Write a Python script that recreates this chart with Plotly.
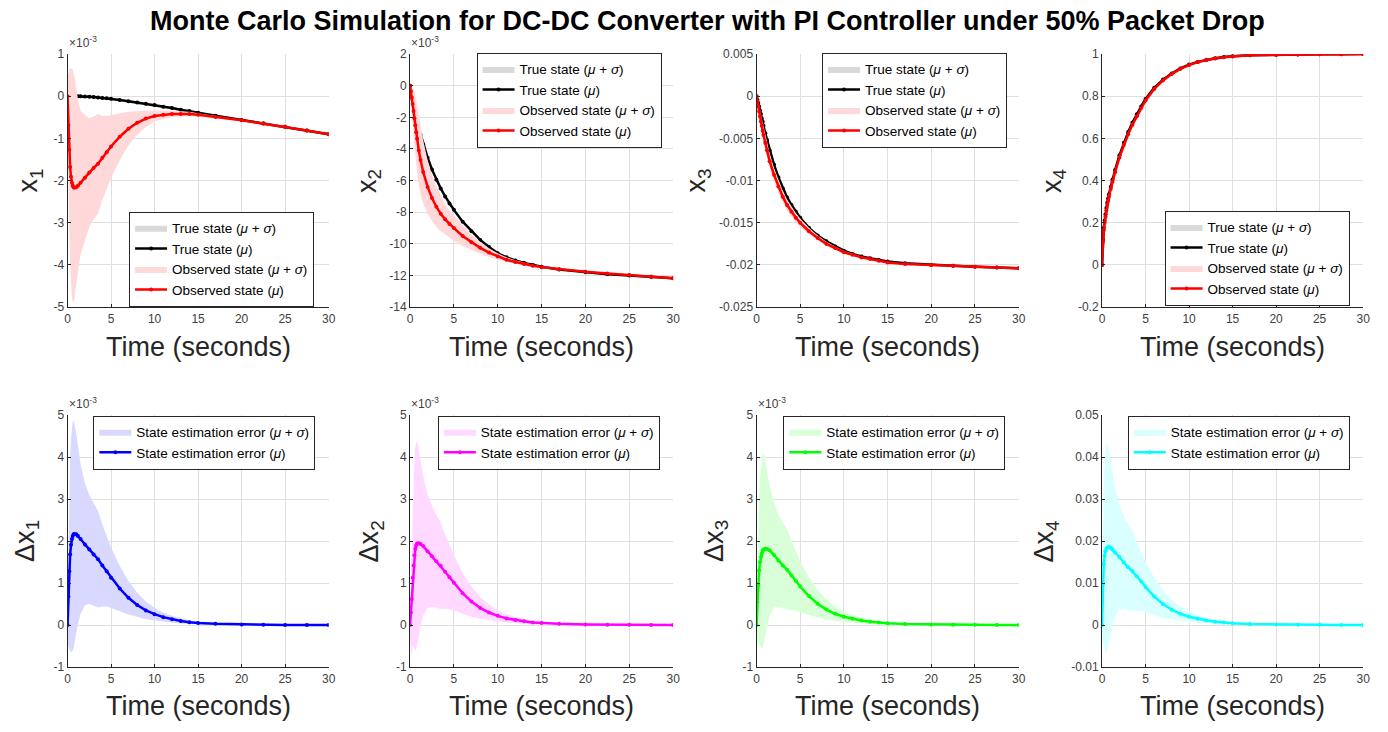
import plotly.graph_objects as go

# Simulation time samples (seconds)
T = [0, 0.1, 0.2, 0.3, 0.4, 0.5, 0.6, 0.7, 0.8, 1.0, 1.2, 1.5, 2.0, 2.5, 3.0, 3.5, 4.0, 4.5,
     5.0, 6.0, 7.0, 8.0, 9.0, 10, 11, 12, 13, 14, 15, 17, 20, 22.5, 25, 27.5, 30]

# ---- state x1 (units of 1e-3) ----
x1_true = [0, 0, 0, 0, 0, 0, 0, 0, 0, 0, 0, -0.002, -0.005, -0.01, -0.02, -0.03, -0.04, -0.05,
           -0.06, -0.09, -0.12, -0.15, -0.18, -0.21, -0.25, -0.28, -0.32, -0.35, -0.39, -0.46,
           -0.56, -0.64, -0.72, -0.81, -0.90]
x1_true_sd = [0, 0.002, 0.004, 0.006, 0.008, 0.01, 0.012, 0.014, 0.015, 0.018, 0.02, 0.022, 0.025,
              0.027, 0.028, 0.03, 0.03, 0.03, 0.03, 0.03, 0.03, 0.03, 0.03, 0.03, 0.03, 0.03, 0.03,
              0.03, 0.03, 0.03, 0.03, 0.03, 0.03, 0.03, 0.03]
x1_obs = [0, -0.68, -1.27, -1.68, -1.91, -2.05, -2.12, -2.16, -2.17, -2.16, -2.12, -2.05, -1.93,
          -1.81, -1.70, -1.60, -1.46, -1.33, -1.19, -0.96, -0.77, -0.63, -0.53, -0.47, -0.44,
          -0.42, -0.42, -0.42, -0.44, -0.49, -0.57, -0.65, -0.725, -0.81, -0.90]
x1_obs_sd = [0.45, 1.23, 1.89, 2.33, 2.57, 2.70, 2.75, 2.71, 2.62, 2.35, 2.05, 1.70, 1.49, 1.29,
             1.22, 1.18, 1.00, 0.86, 0.74, 0.56, 0.40, 0.28, 0.19, 0.13, 0.10, 0.07, 0.06, 0.05,
             0.04, 0.03, 0.02, 0.015, 0.012, 0.01, 0.01]
dx1 = [0, 0.68, 1.28, 1.68, 1.91, 2.05, 2.12, 2.16, 2.17, 2.16, 2.12, 2.05, 1.92, 1.80, 1.68,
       1.57, 1.42, 1.28, 1.13, 0.87, 0.65, 0.48, 0.35, 0.26, 0.19, 0.14, 0.10, 0.07, 0.05, 0.03,
       0.015, 0.01, 0.005, 0.003, 0.002]
dx1_sd = [0.45, 1.2, 1.85, 2.3, 2.55, 2.68, 2.73, 2.7, 2.62, 2.4, 2.1, 1.78, 1.45, 1.3, 1.22,
          1.15, 0.98, 0.84, 0.72, 0.54, 0.40, 0.29, 0.21, 0.15, 0.11, 0.08, 0.06, 0.045, 0.035,
          0.02, 0.01, 0.007, 0.005, 0.003, 0.002]

# ---- state x2 (units of 1e-3) ----
x2_true = [0, -0.3, -0.6, -0.9, -1.2, -1.5, -1.75, -2.0, -2.25, -2.7, -3.1, -3.7, -4.55, -5.3,
           -5.95, -6.5, -7.0, -7.45, -7.85, -8.6, -9.2, -9.75, -10.2, -10.6, -10.85, -11.05,
           -11.2, -11.33, -11.45, -11.62, -11.8, -11.92, -12.0, -12.09, -12.17]
x2_true_sd = [0, 0.03, 0.06, 0.09, 0.12, 0.14, 0.15, 0.16, 0.17, 0.18, 0.18, 0.18, 0.17, 0.15,
              0.13, 0.12, 0.1, 0.09, 0.08, 0.06, 0.05, 0.04, 0.03, 0.03, 0.02, 0.02, 0.02, 0.02,
              0.02, 0.02, 0.02, 0.02, 0.02, 0.02, 0.02]
x2_obs = [0, -0.35, -0.75, -1.15, -1.6, -2.05, -2.5, -2.95, -3.35, -4.1, -4.7, -5.45, -6.4, -7.1,
          -7.65, -8.1, -8.45, -8.75, -9.0, -9.5, -9.9, -10.25, -10.55, -10.8, -11.0, -11.15,
          -11.28, -11.38, -11.47, -11.6, -11.76, -11.87, -11.97, -12.07, -12.17]
x2_obs_sd = [0, 0.3, 0.6, 1.0, 1.35, 1.65, 1.9, 2.05, 2.15, 2.2, 2.15, 2.0, 1.7, 1.45, 1.25, 1.1,
             0.95, 0.85, 0.8, 0.65, 0.5, 0.38, 0.28, 0.2, 0.15, 0.11, 0.08, 0.06, 0.05, 0.035,
             0.02, 0.015, 0.012, 0.01, 0.01]
dx2 = [0, 0.3, 0.62, 1.13, 1.42, 1.66, 1.82, 1.9, 1.94, 1.95, 1.93, 1.88, 1.76, 1.64, 1.52, 1.41,
       1.27, 1.14, 1.01, 0.76, 0.56, 0.41, 0.3, 0.22, 0.16, 0.12, 0.09, 0.065, 0.05, 0.03, 0.015,
       0.01, 0.006, 0.004, 0.003]
dx2_sd = [0.4, 0.9, 1.4, 1.6, 1.95, 2.2, 2.42, 2.46, 2.45, 2.25, 1.95, 1.65, 1.35, 1.2, 1.1, 1.03,
          0.88, 0.76, 0.65, 0.49, 0.36, 0.26, 0.19, 0.135, 0.1, 0.075, 0.055, 0.04, 0.03, 0.018,
          0.01, 0.006, 0.004, 0.003, 0.002]

# ---- state x3 ----
x3_true = [0, -0.0004, -0.0008, -0.0012, -0.0017, -0.0021, -0.0026, -0.003, -0.0035, -0.0044,
           -0.0052, -0.0064, -0.0081, -0.0096, -0.0109, -0.012, -0.0129, -0.0137, -0.0144,
           -0.0156, -0.0165, -0.0172, -0.0178, -0.0183, -0.0187, -0.019, -0.0192, -0.0194,
           -0.0196, -0.0198, -0.02, -0.0201, -0.0202, -0.0203, -0.0204]
x3_true_sd = [0, 0.00005, 0.0001, 0.00015, 0.0002, 0.00022, 0.00025, 0.00027, 0.0003, 0.0003,
              0.0003, 0.0003, 0.0003, 0.00028, 0.00025, 0.00022, 0.0002, 0.00018, 0.00016,
              0.00013, 0.0001, 0.00008, 0.00006, 0.00005, 0.00004, 0.00004, 0.00003, 0.00003,
              0.00003, 0.00003, 0.00003, 0.00003, 0.00003, 0.00003, 0.00003]
x3_obs = [0, -0.0006, -0.0012, -0.0018, -0.0024, -0.003, -0.0035, -0.0041, -0.0046, -0.0055,
          -0.0064, -0.0077, -0.0093, -0.0107, -0.0119, -0.0129, -0.0137, -0.0144, -0.015, -0.016,
          -0.0168, -0.0175, -0.018, -0.0185, -0.0188, -0.0191, -0.0193, -0.0195, -0.0197,
          -0.0199, -0.02, -0.0201, -0.0202, -0.0203, -0.0204]
x3_obs_sd = [0, 0.0003, 0.0005, 0.0007, 0.0008, 0.0009, 0.00095, 0.001, 0.001, 0.001, 0.00095,
             0.0009, 0.0008, 0.00075, 0.0007, 0.00065, 0.0006, 0.00055, 0.0005, 0.0004, 0.0003,
             0.00025, 0.0002, 0.00015, 0.00012, 0.0001, 0.00009, 0.00008, 0.00007, 0.00005,
             0.00004, 0.00003, 0.00003, 0.00002, 0.00002]
dx3 = [0, 0.55, 0.95, 1.3, 1.5, 1.62, 1.71, 1.77, 1.8, 1.82, 1.81, 1.78, 1.67, 1.54, 1.42, 1.32,
       1.18, 1.05, 0.92, 0.69, 0.51, 0.37, 0.27, 0.2, 0.15, 0.11, 0.08, 0.06, 0.045, 0.027, 0.014,
       0.009, 0.006, 0.004, 0.003]
dx3_sd = [0.35, 0.9, 1.4, 1.75, 2.0, 2.15, 2.25, 2.32, 2.3, 2.1, 1.85, 1.55, 1.25, 1.1, 1.02,
          0.95, 0.82, 0.7, 0.6, 0.45, 0.33, 0.24, 0.175, 0.125, 0.09, 0.07, 0.05, 0.037, 0.028,
          0.017, 0.009, 0.006, 0.004, 0.003, 0.002]

# ---- state x4 ----
x4_true = [0, 0.12, 0.175, 0.21, 0.24, 0.27, 0.295, 0.315, 0.335, 0.37, 0.405, 0.45, 0.52, 0.58,
           0.63, 0.675, 0.715, 0.752, 0.787, 0.84, 0.879, 0.908, 0.932, 0.95, 0.963, 0.973, 0.98,
           0.986, 0.99, 0.994, 0.997, 0.998, 0.999, 0.9995, 1.0]
x4_true_sd = [0, 0.01, 0.012, 0.013, 0.014, 0.014, 0.014, 0.014, 0.014, 0.013, 0.013, 0.012,
              0.011, 0.01, 0.009, 0.008, 0.007, 0.006, 0.006, 0.005, 0.004, 0.003, 0.003, 0.002,
              0.002, 0.002, 0.001, 0.001, 0.001, 0.001, 0.001, 0.001, 0.001, 0.001, 0.001]
x4_obs = [0, 0.11, 0.165, 0.2, 0.23, 0.26, 0.285, 0.305, 0.325, 0.36, 0.395, 0.44, 0.51, 0.57,
          0.62, 0.665, 0.705, 0.745, 0.78, 0.835, 0.875, 0.905, 0.93, 0.948, 0.962, 0.972, 0.979,
          0.985, 0.989, 0.994, 0.997, 0.998, 0.999, 0.9995, 1.0]
x4_obs_sd = [0, 0.02, 0.022, 0.022, 0.022, 0.021, 0.02, 0.019, 0.018, 0.016, 0.015, 0.013, 0.011,
             0.01, 0.009, 0.008, 0.007, 0.006, 0.005, 0.004, 0.003, 0.0025, 0.002, 0.0015, 0.0012,
             0.001, 0.0008, 0.0006, 0.0005, 0.0004, 0.0003, 0.0002, 0.0002, 0.0001, 0.0001]
dx4 = [0, 0.0099, 0.0145, 0.0165, 0.0176, 0.0182, 0.0185, 0.0186, 0.0186, 0.0184, 0.018, 0.0173,
       0.0162, 0.0149, 0.0138, 0.0129, 0.0116, 0.0104, 0.0091, 0.0068, 0.005, 0.0037, 0.0027,
       0.002, 0.0015, 0.0011, 0.0008, 0.0006, 0.00045, 0.00027, 0.00014, 0.00009, 0.00006,
       0.00004, 0.00003]
dx4_sd = [0.004, 0.014, 0.019, 0.022, 0.024, 0.025, 0.0245, 0.024, 0.023, 0.021, 0.0185, 0.0155,
          0.0125, 0.011, 0.0102, 0.0095, 0.0082, 0.007, 0.006, 0.0045, 0.0033, 0.0024, 0.00175,
          0.00125, 0.0009, 0.0007, 0.0005, 0.00037, 0.00028, 0.00017, 0.00009, 0.00006, 0.00004,
          0.00003, 0.00002]

# ---- axis ticks ----
x_ticks = [0, 5, 10, 15, 20, 25, 30]
y_ticks = [
    [-5, -4, -3, -2, -1, 0, 1],
    [-14, -12, -10, -8, -6, -4, -2, 0, 2],
    [-0.025, -0.02, -0.015, -0.01, -0.005, 0, 0.005],
    [-0.2, 0, 0.2, 0.4, 0.6, 0.8, 1],
    [-1, 0, 1, 2, 3, 4, 5],
    [-1, 0, 1, 2, 3, 4, 5],
    [-1, 0, 1, 2, 3, 4, 5],
    [-0.01, 0, 0.01, 0.02, 0.03, 0.04, 0.05],
]
y_tick_text = [
    ["-5", "-4", "-3", "-2", "-1", "0", "1"],
    ["-14", "-12", "-10", "-8", "-6", "-4", "-2", "0", "2"],
    ["-0.025", "-0.02", "-0.015", "-0.01", "-0.005", "0", "0.005"],
    ["-0.2", "0", "0.2", "0.4", "0.6", "0.8", "1"],
    ["-1", "0", "1", "2", "3", "4", "5"],
    ["-1", "0", "1", "2", "3", "4", "5"],
    ["-1", "0", "1", "2", "3", "4", "5"],
    ["-0.01", "0", "0.01", "0.02", "0.03", "0.04", "0.05"],
]

W, H = 1388, 732
FONT = "Liberation Sans, Arial, Helvetica, sans-serif"
AX = "#262626"


def px(x):
    return x / W


def py(y):
    return 1 - y / H


# plot-area pixel boxes (left, right, top, bottom)
col_lr = [(65, 328), (410, 675), (759, 1023), (1107, 1370)]
row_tb = [(48, 306), (416, 673)]

state_sets = [
    (x1_true, x1_true_sd, x1_obs, x1_obs_sd),
    (x2_true, x2_true_sd, x2_obs, x2_obs_sd),
    (x3_true, x3_true_sd, x3_obs, x3_obs_sd),
    (x4_true, x4_true_sd, x4_obs, x4_obs_sd),
]
err_sets = [(dx1, dx1_sd), (dx2, dx2_sd), (dx3, dx3_sd), (dx4, dx4_sd)]
err_line = ["#0000ff", "#ff00ff", "#00ff00", "#00ffff"]
err_fill = ["rgb(217,217,255)", "rgb(255,217,255)", "rgb(217,255,217)", "rgb(217,255,255)"]
scaled = [True, True, False, False, True, True, True, False]

# legend anchors (left, vertical centre) in pixels
legend_pos = [(127, 257), (477, 95), (825, 95), (1170, 256),
              (91, 444), (438, 444), (786, 444), (1133, 444)]
# y-title centre x in pixels
ytitle_x = [27, 368, 700, 1058, 24, 371, 718, 1051]

MU = "<i>μ</i>"
SIG = "<i>σ</i>"

fig = go.Figure()


def band(xs, mean, sd):
    up = [m + s for m, s in zip(mean, sd)]
    lo = [m - s for m, s in zip(mean, sd)]
    return xs + xs[::-1], up + lo[::-1]


def mean_trace(mean, color, name, ax, leg):
    return go.Scatter(x=T, y=mean, mode="lines+markers", name=name,
                      line=dict(color=color, width=2.5),
                      marker=dict(color=color, size=4, symbol="circle"),
                      xaxis="x" + ax, yaxis="y" + ax, legend=leg)


def band_trace(mean, sd, color, name, ax, leg):
    bx, by = band(T, mean, sd)
    return go.Scatter(x=bx, y=by, fill="toself", fillcolor=color, mode="lines",
                      line=dict(width=0, color=color), name=name,
                      xaxis="x" + ax, yaxis="y" + ax, legend=leg, hoverinfo="skip")


for i in range(8):
    ax = "" if i == 0 else str(i + 1)
    leg = "legend" if i == 0 else "legend%d" % (i + 1)
    if i < 4:
        tr, trs, ob, obs = state_sets[i]
        fig.add_trace(band_trace(tr, trs, "rgb(217,217,217)",
                                 "True state (%s + %s)" % (MU, SIG), ax, leg))
        fig.add_trace(mean_trace(tr, "#000000", "True state (%s)" % MU, ax, leg))
        fig.add_trace(band_trace(ob, obs, "rgb(255,217,217)",
                                 "Observed state (%s + %s)" % (MU, SIG), ax, leg))
        fig.add_trace(mean_trace(ob, "#ff0000", "Observed state (%s)" % MU, ax, leg))
    else:
        j = i - 4
        m, s = err_sets[j]
        fig.add_trace(band_trace(m, s, err_fill[j],
                                 "State estimation error (%s + %s)" % (MU, SIG), ax, leg))
        fig.add_trace(mean_trace(m, err_line[j], "State estimation error (%s)" % MU, ax, leg))

layout = dict(
    width=W, height=H, margin=dict(l=0, r=0, t=0, b=0),
    paper_bgcolor="white", plot_bgcolor="white",
    font=dict(family=FONT, color=AX),
    showlegend=True,
    annotations=[],
)

for i in range(8):
    r, c = divmod(i, 4)
    l, rr = col_lr[c]
    t, b = row_tb[r]
    ax = "" if i == 0 else str(i + 1)
    layout["xaxis" + ax] = dict(
        domain=[px(l), px(rr)], range=[0, 30], anchor="y" + ax,
        tickvals=x_ticks, ticktext=[str(v) for v in x_ticks],
        showgrid=True, gridcolor="#dfdfdf", gridwidth=1,
        showline=True, linecolor=AX, linewidth=1, mirror=False,
        ticks="inside", ticklen=3, tickcolor=AX,
        tickfont=dict(size=12, color="#404040", family=FONT), zeroline=False,
    )
    yr = [y_ticks[i][0], y_ticks[i][-1]]
    layout["yaxis" + ax] = dict(
        domain=[py(b), py(t)], range=yr, anchor="x" + ax,
        tickvals=y_ticks[i], ticktext=y_tick_text[i],
        showgrid=True, gridcolor="#dfdfdf", gridwidth=1,
        showline=True, linecolor=AX, linewidth=1, mirror=False,
        ticks="inside", ticklen=3, tickcolor=AX,
        tickfont=dict(size=12, color="#404040", family=FONT), zeroline=False,
    )
    leg = "legend" if i == 0 else "legend%d" % (i + 1)
    lx, ly = legend_pos[i]
    layout[leg] = dict(
        x=px(lx), y=py(ly), xanchor="left", yanchor="middle",
        bgcolor="white", bordercolor=AX, borderwidth=1,
        font=dict(size=13.5, family=FONT, color="#000000"),
        itemwidth=32, tracegroupgap=0, traceorder="normal",
    )
    # axis titles
    layout["annotations"].append(dict(
        text="Time (seconds)", x=px((l + rr) / 2), y=py(347 if r == 0 else 713),
        xref="paper", yref="paper", xanchor="center", yanchor="middle", showarrow=False,
        font=dict(size=27, family=FONT, color=AX)))
    lab = ("x<sub>%d</sub>" if r == 0 else "Δx<sub>%d</sub>") % (c + 1)
    layout["annotations"].append(dict(
        text=lab, x=px(ytitle_x[i]), y=py((t + b) / 2), textangle=-90,
        xref="paper", yref="paper", xanchor="center", yanchor="middle", showarrow=False,
        font=dict(size=27, family=FONT, color=AX)))
    if scaled[i]:
        layout["annotations"].append(dict(
            text="×10<sup>-3</sup>", x=px(l - 1), y=py(t - 2),
            xref="paper", yref="paper", xanchor="left", yanchor="bottom", showarrow=False,
            font=dict(size=12, family=FONT, color="#404040")))

layout["annotations"].append(dict(
    text="<b>Monte Carlo Simulation for DC-DC Converter with PI Controller under 50% Packet Drop</b>",
    x=px(710), y=py(14), xref="paper", yref="paper", xanchor="center", yanchor="middle",
    showarrow=False, font=dict(size=27, family=FONT, color="#000000")))

fig.update_layout(**layout)
fig.write_html("out.html")
